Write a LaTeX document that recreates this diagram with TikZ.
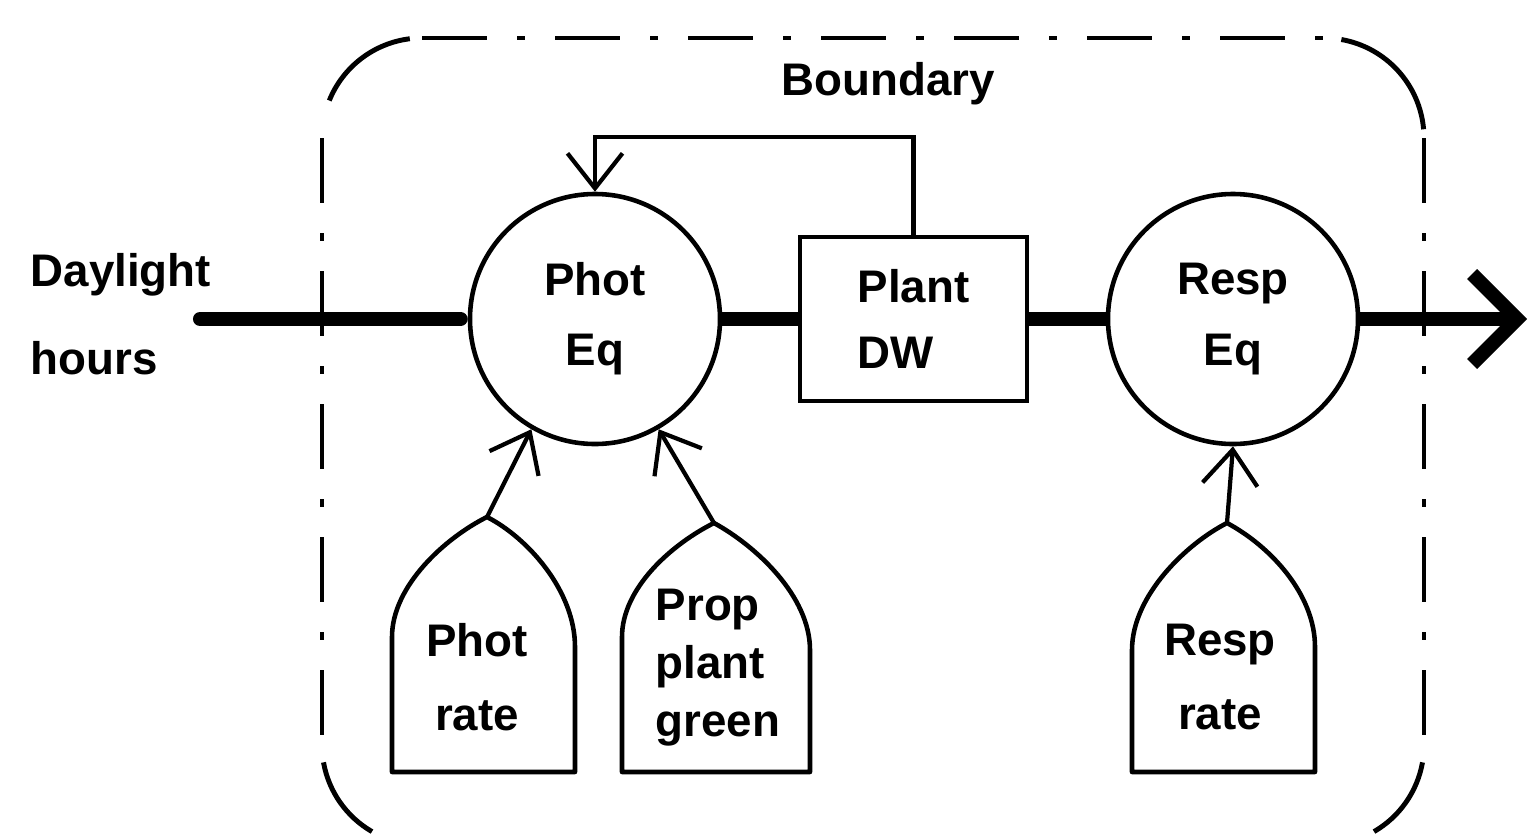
\documentclass[tikz,border=0pt]{standalone}
\usepackage{fontspec}
\setmainfont{Liberation Sans}
\usetikzlibrary{arrows.meta}

\tikzset{
  lbl/.style={font=\bfseries\fontsize{13}{20}\selectfont, inner sep=0pt},
  eqcircle/.style={circle, draw, line width=1.3pt, minimum size=2.5cm, align=center, font=\bfseries\fontsize{13}{20}\selectfont},
  levelbox/.style={rectangle, draw, line width=1.3pt, minimum width=2.27cm, minimum height=1.64cm, align=left, font=\bfseries\fontsize{13}{19}\selectfont},
  flow/.style={line width=4pt},
  info/.style={line width=1.2pt, -{Straight Barb[length=3.5mm,width=5.5mm]}},
  arch/.style={line width=1.3pt, line join=round},
  bound/.style={line width=1.4pt, dash pattern=on 0.65cm off 0.3cm on 0.08cm off 0.3cm},
}

\begin{document}
\begin{tikzpicture}
	\useasboundingbox (0,0) rectangle (15.38,8.36);

	% boundary of the system
	\draw[bound] (4.22,7.98) -- (13.24,7.98);
	\draw[bound] (3.22,6.98) -- (3.22,0.91);
	\draw[bound] (14.24,6.98) -- (14.24,0.91);
	\draw[bound] (4.22,-0.09) -- (13.24,-0.09);
	\draw[line width=1.4pt] ([shift={(4.22,6.98)}]158:1) arc[start angle=158, end angle=97, radius=1];
	\draw[line width=1.4pt] ([shift={(13.24,6.98)}]80:1) arc[start angle=80, end angle=5, radius=1];
	\draw[line width=1.4pt] ([shift={(13.24,0.91)}]-10:1) arc[start angle=-10, end angle=-60, radius=1];
	\draw[line width=1.4pt] ([shift={(4.22,0.91)}]190:1) arc[start angle=190, end angle=240, radius=1];
	\node[lbl] (boundary) at (8.88,7.52) {Boundary};

	% main flow
	\node[lbl, align=left, anchor=west, font=\bfseries\fontsize{13}{25}\selectfont] (daylight) at (0.30,5.22) {Daylight\\hours};
	\coordinate (daysrc) at (2.00,5.17);
	\node[eqcircle] (photeq) at (5.95,5.17) {Phot\\Eq};
	\node[levelbox] (plantdw) at (9.135,5.17) {Plant\\DW};
	\node[eqcircle] (respeq) at (12.33,5.17) {Resp\\Eq};
	\coordinate (sink) at (15.27,5.17);

	\draw[flow, line cap=round, shorten >=2pt] (daysrc) -- (photeq);
	\draw[flow] (photeq) -- (plantdw);
	\draw[flow] (plantdw) -- (respeq);
	\draw[flow, -{Straight Barb[length=4.5mm,width=9mm]}] (respeq) -- (sink);

	% feedback
	\draw[info] (plantdw.north) -- ++(0,0.98) -| (photeq.north);

	% rates
	\coordinate (photapex) at (4.87,3.19);
	\coordinate (propapex) at (7.14,3.13);
	\coordinate (respapex) at (12.27,3.13);

	\draw[arch] (3.92,0.64) -- (3.92,1.99) .. controls (3.92,2.50) and (4.45,2.98) .. (photapex)
		.. controls (5.28,2.98) and (5.75,2.45) .. (5.75,1.89) -- (5.75,0.64) -- cycle;
	\draw[arch] (6.22,0.64) -- (6.22,1.99) .. controls (6.22,2.48) and (6.72,2.92) .. (propapex)
		.. controls (7.56,2.90) and (8.10,2.40) .. (8.10,1.86) -- (8.10,0.64) -- cycle;
	\draw[arch] (11.32,0.64) -- (11.32,1.86) .. controls (11.32,2.40) and (11.86,2.92) .. (respapex)
		.. controls (12.70,2.90) and (13.15,2.42) .. (13.15,1.89) -- (13.15,0.64) -- cycle;

	\node[lbl, align=center, font=\bfseries\fontsize{13}{21}\selectfont] (photrate) at (4.77,1.59) {Phot\\rate};
	\node[lbl, align=left, font=\bfseries\fontsize{13}{16.5}\selectfont] (propgreen) at (7.18,1.68) {Prop\\plant\\green};
	\node[lbl, align=center, font=\bfseries\fontsize{13}{21}\selectfont] (resprate) at (12.20,1.59) {Resp\\rate};

	\draw[info] (photapex) -- (photeq.240);
	\draw[info] (propapex) -- (photeq.300);
	\draw[info] (respapex) -- (respeq.south);
\end{tikzpicture}
\end{document}
